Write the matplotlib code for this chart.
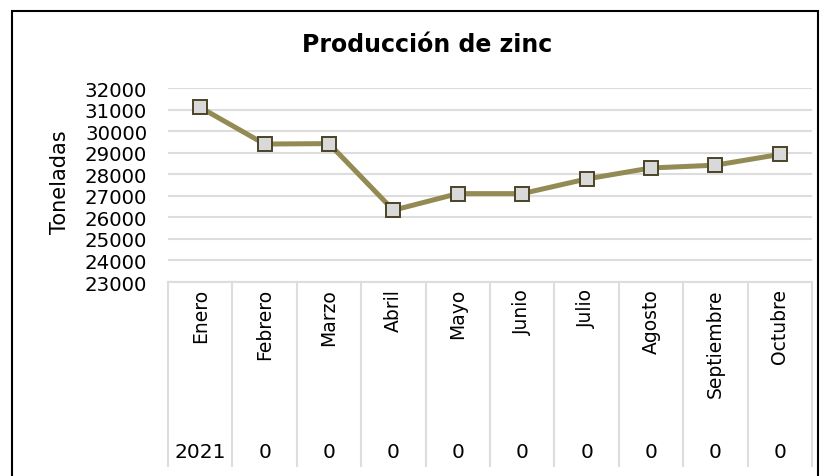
import matplotlib.pyplot as plt
from matplotlib.patches import Rectangle
import matplotlib.transforms as mtransforms

# data
months = ["Enero", "Febrero", "Marzo", "Abril", "Mayo", "Junio",
          "Julio", "Agosto", "Septiembre", "Octubre"]
year_labels = ["2021", "0", "0", "0", "0", "0", "0", "0", "0", "0"]
tonnes = [31100, 29400, 29420, 26330, 27100, 27100, 27780, 28290, 28420, 28920]
yticks = list(range(23000, 32001, 1000))

W, H = 821, 477
plt.rcParams["font.family"] = ["DejaVu Sans"]
FS = 13.5

fig = plt.figure(figsize=(W / 100, H / 100), dpi=100)

# plot area in pixel coordinates
left, right, top, bottom = 168, 812, 89, 283
ax = fig.add_axes([left / W, 1 - bottom / H, (right - left) / W, (bottom - top) / H])

x = list(range(len(months)))
ax.plot(x, tonnes, color="#948A54", lw=3.6, marker="s", markersize=10.5,
        markerfacecolor="#D9D9D9", markeredgecolor="#4A4428", markeredgewidth=1.4,
        zorder=3, solid_joinstyle="round")

ax.set_xlim(-0.5, len(months) - 0.5)
ax.set_ylim(23000, 32000)
ax.set_yticks(yticks)
ax.set_yticklabels([str(v) for v in yticks], fontsize=14.2)
ax.tick_params(axis="y", length=0, pad=15)
ax.set_xticks([])
ax.grid(axis="y", color="#DDDDDD", lw=1.5)
ax.set_axisbelow(True)
for s in ax.spines.values():
    s.set_visible(False)

ax.set_ylabel("Toneladas", fontsize=15)
ax.yaxis.set_label_coords(-0.152, 0.52)

# multi-level category axis drawn below the plot
trans = mtransforms.blended_transform_factory(ax.transData, ax.transAxes)
h = bottom - top
y_low = -(467 - bottom) / h
ax.plot([-0.5, len(months) - 0.5], [0, 0], transform=trans, color="#DDDDDD",
        lw=1.5, clip_on=False)
for i in range(len(months) + 1):
    ax.plot([i - 0.5, i - 0.5], [0, y_low], transform=trans, color="#DDDDDD",
            lw=1.5, clip_on=False)
for i, m in enumerate(months):
    ax.text(i, -(289 - bottom) / h, m, transform=trans, rotation=90,
            ha="center", va="top", fontsize=FS)
    ax.text(i, -(453 - bottom) / h, year_labels[i], transform=trans,
            ha="center", va="center", fontsize=14.5)

fig.text(427 / W, 1 - 45 / H, "Producción de zinc", ha="center", va="center",
         fontsize=17, fontweight="bold")

# outer chart frame
fig.patches.append(Rectangle((12 / W, -0.1), (818 - 12) / W, 1.1 - 12 / H,
                             transform=fig.transFigure, fill=False,
                             edgecolor="black", lw=1.5))

fig.savefig("out.png", dpi=100)
